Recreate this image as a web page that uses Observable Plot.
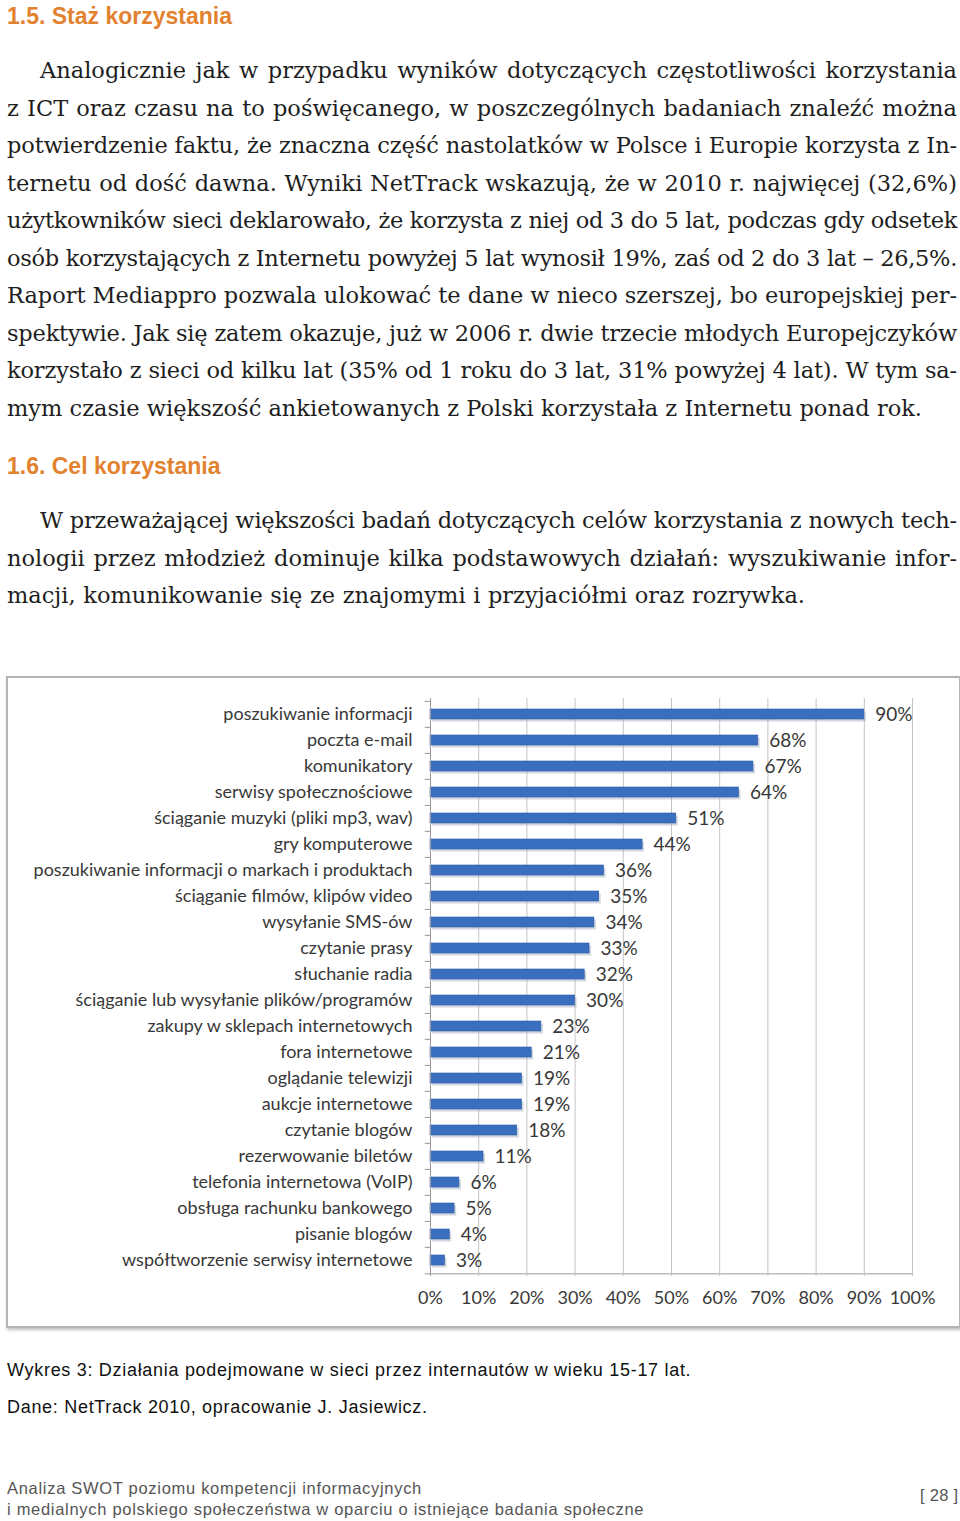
<!DOCTYPE html>
<html>
<head>
<meta charset="utf-8">
<script src="https://cdn.jsdelivr.net/npm/d3@7"></script>
<script src="https://cdn.jsdelivr.net/npm/@observablehq/plot@0.6"></script>
<style>
  html, body { margin: 0; padding: 0; background: #fff; }
  body { width: 960px; height: 1521px; position: relative; overflow: hidden; }
  .h { position: absolute; left: 7px; font-family: "Liberation Sans", Arial, sans-serif; font-weight: bold; font-size: 23px; color: #e2822f; line-height: 28px; white-space: nowrap; }
  .para { position: absolute; left: 7px; width: 950px; font-family: "DejaVu Serif", serif; font-size: 22.5px; color: #1e1e1e; line-height: 37.5px; }
  .line { white-space: nowrap; height: 37.5px; }
  .line.ind { padding-left: 33px; }
  .cap { position: absolute; left: 7px; font-family: "Liberation Sans", Arial, sans-serif; font-size: 18px; letter-spacing: 0.7px; color: #111; line-height: 24px; white-space: nowrap; }
  .foot { position: absolute; left: 7px; font-family: "Liberation Sans", Arial, sans-serif; font-size: 16.5px; letter-spacing: 0.7px; color: #555; line-height: 21px; white-space: nowrap; }
  #box { position: absolute; left: 6px; top: 676px; width: 951px; height: 648px; border: 2px solid #b4b4b4; box-shadow: 1px 2px 3px rgba(0,0,0,0.25); background: #fff; }
  #box svg { display: block; }
</style>
</head>
<body>
<div class="h" style="top:2px">1.5. Staż korzystania</div>
<div class="para" style="top:52px">
  <div class="line ind j"><span>Analogicznie jak w przypadku wyników dotyczących częstotliwości korzystania</span></div>
  <div class="line j"><span>z ICT oraz czasu na to poświęcanego, w poszczególnych badaniach znaleźć można</span></div>
  <div class="line j"><span>potwierdzenie faktu, że znaczna część nastolatków w Polsce i Europie korzysta z In-</span></div>
  <div class="line j"><span>ternetu od dość dawna. Wyniki NetTrack wskazują, że w 2010 r. najwięcej (32,6%)</span></div>
  <div class="line j"><span>użytkowników sieci deklarowało, że korzysta z niej od 3 do 5 lat, podczas gdy odsetek</span></div>
  <div class="line j"><span>osób korzystających z Internetu powyżej 5 lat wynosił 19%, zaś od 2 do 3 lat – 26,5%.</span></div>
  <div class="line j"><span>Raport Mediappro pozwala ulokować te dane w nieco szerszej, bo europejskiej per-</span></div>
  <div class="line j"><span>spektywie. Jak się zatem okazuje, już w 2006 r. dwie trzecie młodych Europejczyków</span></div>
  <div class="line j"><span>korzystało z sieci od kilku lat (35% od 1 roku do 3 lat, 31% powyżej 4 lat). W tym sa-</span></div>
  <div class="line e" data-w="922"><span>mym czasie większość ankietowanych z Polski korzystała z Internetu ponad rok.</span></div>
</div>
<div class="h" style="top:452px">1.6. Cel korzystania</div>
<div class="para" style="top:502px">
  <div class="line ind j"><span>W przeważającej większości badań dotyczących celów korzystania z nowych tech-</span></div>
  <div class="line j"><span>nologii przez młodzież dominuje kilka podstawowych działań: wyszukiwanie infor-</span></div>
  <div class="line e" data-w="805"><span>macji, komunikowanie się ze znajomymi i przyjaciółmi oraz rozrywka.</span></div>
</div>

<div id="box"></div>

<div class="cap" style="top:1358px">Wykres 3: Działania podejmowane w sieci przez internautów w wieku 15-17 lat.</div>
<div class="cap" style="top:1395px">Dane: NetTrack 2010, opracowanie J. Jasiewicz.</div>

<div class="foot" style="top:1478px">Analiza SWOT poziomu kompetencji informacyjnych</div>
<div class="foot" style="top:1499px">i medialnych polskiego społeczeństwa w oparciu o istniejące badania społeczne</div>
<div class="foot" style="top:1485px; left:920px; letter-spacing:0.3px">[ 28 ]</div>

<script>
// ---- data ----
const categories = [
  "poszukiwanie informacji",
  "poczta e-mail",
  "komunikatory",
  "serwisy społecznościowe",
  "ściąganie muzyki (pliki mp3, wav)",
  "gry komputerowe",
  "poszukiwanie informacji o markach i produktach",
  "ściąganie filmów, klipów video",
  "wysyłanie SMS-ów",
  "czytanie prasy",
  "słuchanie radia",
  "ściąganie lub wysyłanie plików/programów",
  "zakupy w sklepach internetowych",
  "fora internetowe",
  "oglądanie telewizji",
  "aukcje internetowe",
  "czytanie blogów",
  "rezerwowanie biletów",
  "telefonia internetowa (VoIP)",
  "obsługa rachunku bankowego",
  "pisanie blogów",
  "współtworzenie serwisy internetowe"
];
const values = [90, 68, 67, 64, 51, 44, 36, 35, 34, 33, 32, 30, 23, 21, 19, 19, 18, 11, 6, 5, 4, 3];
const xTicks = [0, 10, 20, 30, 40, 50, 60, 70, 80, 90, 100];

const data = categories.map((c, i) => ({category: c, value: values[i]}));

const H = 648, mTop = 20, mBottom = 50;
const step = (H - mTop - mBottom) / categories.length;
const lastCat = categories[categories.length - 1];

const chart = Plot.plot({
  width: 951,
  height: H,
  marginLeft: 422,
  marginRight: 47,
  marginTop: mTop,
  marginBottom: mBottom,
  style: {fontFamily: "Lato, 'Open Sans', sans-serif", fontSize: "18px", color: "#383838", background: "white"},
  x: {domain: [0, 100], ticks: xTicks, tickFormat: d => d + "%", tickSize: 0, tickPadding: 15, label: null},
  y: {domain: categories, paddingInner: 0.6, paddingOuter: 0.3, tickSize: 0, tickPadding: 18, label: null},
  marks: [
    Plot.ruleX(xTicks, {stroke: "#c4c4c4", strokeWidth: 1}),
    Plot.ruleY(categories, {y: d => d, x1: -1.1, x2: 0, dy: -step / 2, stroke: "#9a9a9a"}),
    Plot.ruleY([lastCat], {y: d => d, x1: -1.1, x2: 100, dy: step / 2, stroke: "#bdbdbd", strokeWidth: 1.5}),
    Plot.barX(data, {x: "value", y: "category", fill: "#9aa6b8", fillOpacity: 0.45, dx: 2, dy: 2.5}),
    Plot.barX(data, {x: "value", y: "category", fill: "#3a6fbf", stroke: "#2d5ca3", strokeWidth: 0.6}),
    Plot.ruleX([0], {stroke: "#9a9a9a"}),
    Plot.text(data, {x: "value", y: "category", text: d => d.value + "%", dx: 11, textAnchor: "start", fill: "#383838", fontSize: 19})
  ]
});
document.getElementById("box").appendChild(chart);

// ---- justify body text lines ----
function fitLines() {
  document.querySelectorAll(".line").forEach(el => {
    const span = el.querySelector("span");
    span.style.letterSpacing = "0px";
    span.style.wordSpacing = "0px";
    const text = span.textContent;
    const indent = el.classList.contains("ind") ? 33 : 0;
    const target = el.dataset.w ? (+el.dataset.w - 7 - indent) : (950 - indent);
    const natural = span.getBoundingClientRect().width;
    const spaces = (text.match(/ /g) || []).length;
    const extra = target - natural;
    if (extra >= 0 && spaces > 0) {
      span.style.wordSpacing = (extra / spaces) + "px";
    } else {
      span.style.letterSpacing = (extra / text.length) + "px";
    }
  });
}
fitLines();
if (document.fonts && document.fonts.ready) document.fonts.ready.then(fitLines);
</script>
</body>
</html>
